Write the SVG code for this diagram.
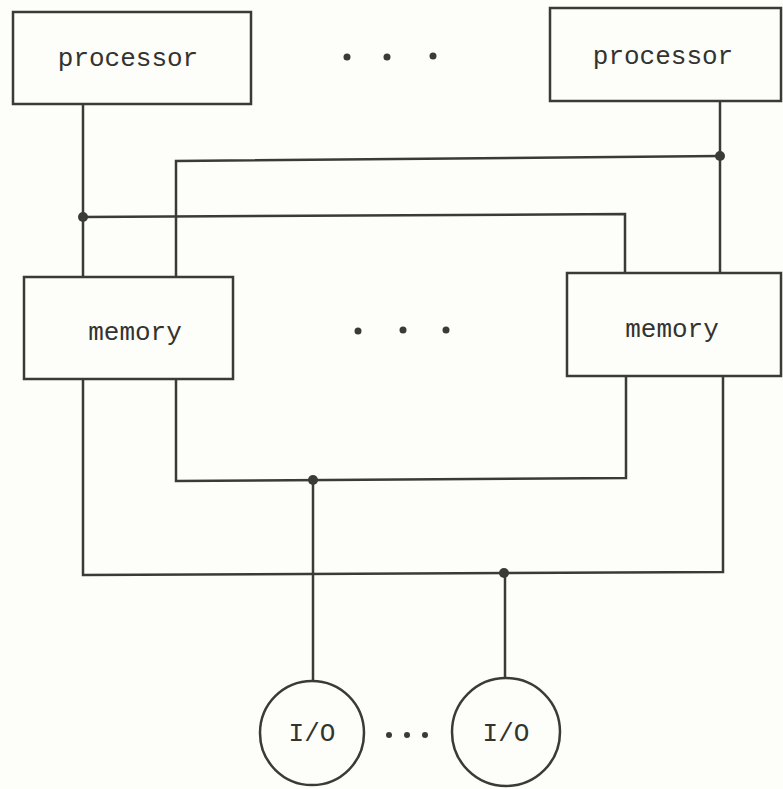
<svg xmlns="http://www.w3.org/2000/svg" width="783" height="789" viewBox="0 0 783 789">
<style>
.box{fill:none;stroke:#3a3a36;stroke-width:2.5}
.ln{fill:none;stroke:#3a3a36;stroke-width:2.5;stroke-linejoin:miter}
.lbl{font-family:"Liberation Mono","Courier New",monospace;font-size:26px;fill:#333330;text-anchor:middle}
.dot{fill:#3a3a36}
</style>
<rect width="783" height="789" fill="#fdfdf9"/>
<g id="connectors">
<path class="ln" d="M83,104 V277"/>
<path class="ln" d="M83,217 L625,214 V273"/>
<path class="ln" d="M176,277 V161 L720,156"/>
<path class="ln" d="M720,101 V273"/>
<path class="ln" d="M83,379 V575 L723,572 V376"/>
<path class="ln" d="M176,379 V481 L626,478 V376"/>
<path class="ln" d="M313,480 V680"/>
<path class="ln" d="M505,573 V678"/>
<circle class="dot" cx="83" cy="217" r="5"/>
<circle class="dot" cx="720" cy="156" r="5"/>
<circle class="dot" cx="313" cy="480" r="5"/>
<circle class="dot" cx="504" cy="573" r="5"/>
</g>
<g id="processor1">
<rect class="box" x="13" y="12" width="238" height="92"/>
<text class="lbl" x="128" y="66">processor</text>
</g>
<g id="processor-dots">
<circle class="dot" cx="347" cy="57" r="3.5"/>
<circle class="dot" cx="387" cy="57" r="3.5"/>
<circle class="dot" cx="433" cy="56" r="3.5"/>
</g>
<g id="processor2">
<rect class="box" x="550" y="8" width="231" height="93"/>
<text class="lbl" x="663" y="64">processor</text>
</g>
<g id="memory1">
<rect class="box" x="24" y="277" width="209" height="102"/>
<text class="lbl" x="135" y="340">memory</text>
</g>
<g id="memory-dots">
<circle class="dot" cx="358" cy="331" r="3.5"/>
<circle class="dot" cx="403" cy="330" r="3.5"/>
<circle class="dot" cx="446" cy="330" r="3.5"/>
</g>
<g id="memory2">
<rect class="box" x="567" y="273" width="214" height="103"/>
<text class="lbl" x="672" y="337">memory</text>
</g>
<g id="io1">
<circle class="box" cx="312" cy="733" r="52"/>
<text class="lbl" x="312" y="741">I/O</text>
</g>
<g id="io-dots">
<circle class="dot" cx="389" cy="735" r="3"/>
<circle class="dot" cx="407" cy="735" r="3"/>
<circle class="dot" cx="425" cy="735" r="3"/>
</g>
<g id="io2">
<circle class="box" cx="506" cy="732" r="54"/>
<text class="lbl" x="506" y="741">I/O</text>
</g>
</svg>
